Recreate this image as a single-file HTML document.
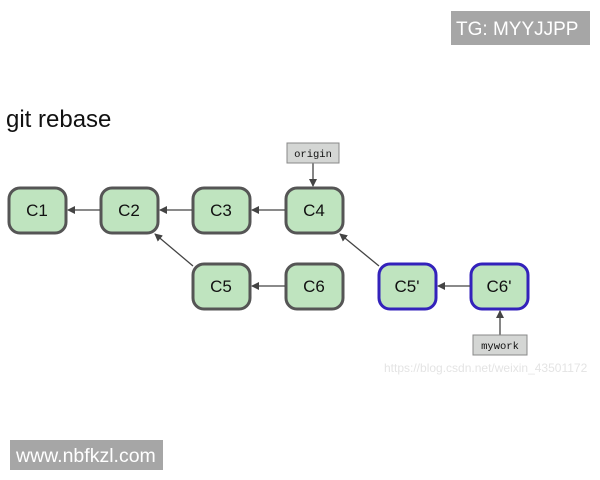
<!DOCTYPE html>
<html><head><style>
html,body{margin:0;padding:0;background:#fff;width:600px;height:480px;overflow:hidden}
svg{display:block}
</style></head><body>
<svg width="600" height="480" viewBox="0 0 600 480" xmlns="http://www.w3.org/2000/svg">
<defs>
<marker id="a" markerWidth="8" markerHeight="8" refX="7" refY="4" orient="auto" markerUnits="userSpaceOnUse">
<path d="M0,0 L8,4 L0,8 z" fill="#444"/></marker>
</defs>
<rect x="451" y="11" width="139" height="34" fill="#a6a6a6"/>
<text x="456" y="35" font-family="Liberation Sans, sans-serif" font-size="19" fill="#fff">TG: MYYJJPP</text>
<text x="6" y="127" font-family="Liberation Sans, sans-serif" font-size="24" fill="#111">git rebase</text>
<rect x="10" y="440" width="153" height="30" fill="#a6a6a6"/>
<text x="16" y="462" font-family="Liberation Sans, sans-serif" font-size="19.5" fill="#fff">www.nbfkzl.com</text>
<text x="384" y="372" font-family="Liberation Sans, sans-serif" font-size="12" fill="#e4e4e4">https://blog.csdn.net/weixin_43501172</text>
<g font-family="Liberation Sans, sans-serif" font-size="17" text-anchor="middle" fill="#111">
<g stroke="#555" stroke-width="3" fill="#bfe4bf">
<rect x="9" y="188" width="57" height="45" rx="11"/>
<rect x="101" y="188" width="57" height="45" rx="11"/>
<rect x="193" y="188" width="57" height="45" rx="11"/>
<rect x="286" y="188" width="57" height="45" rx="11"/>
<rect x="193" y="264" width="57" height="45" rx="11"/>
<rect x="286" y="264" width="57" height="45" rx="11"/>
</g>
<g stroke="#3322bb" stroke-width="3" fill="#bfe4bf">
<rect x="379" y="264" width="57" height="45" rx="11"/>
<rect x="471" y="264" width="57" height="45" rx="11"/>
</g>
<text x="37" y="216">C1</text><text x="129" y="216">C2</text><text x="221" y="216">C3</text><text x="314" y="216">C4</text>
<text x="221" y="292">C5</text><text x="314" y="292">C6</text><text x="407" y="292">C5'</text><text x="499" y="292">C6'</text>
</g>
<g stroke="#444" stroke-width="1.3" marker-end="url(#a)">
<line x1="100" y1="210" x2="68" y2="210"/>
<line x1="192" y1="210" x2="160" y2="210"/>
<line x1="285" y1="210" x2="252" y2="210"/>
<line x1="285" y1="286" x2="252" y2="286"/>
<line x1="470" y1="286" x2="438" y2="286"/>
<line x1="193" y1="266" x2="155" y2="234"/>
<line x1="379" y1="266" x2="340" y2="234"/>
<line x1="313" y1="163" x2="313" y2="186"/>
<line x1="500" y1="335" x2="500" y2="311"/>
</g>
<rect x="287" y="143" width="52" height="20" fill="#d4d6d4" stroke="#888"/>
<text x="313" y="157" font-family="Liberation Mono, monospace" font-size="10.5" text-anchor="middle" fill="#111">origin</text>
<rect x="473" y="335" width="54" height="20" fill="#d4d6d4" stroke="#888"/>
<text x="500" y="349" font-family="Liberation Mono, monospace" font-size="10.5" text-anchor="middle" fill="#111">mywork</text>
</svg>
</body></html>
